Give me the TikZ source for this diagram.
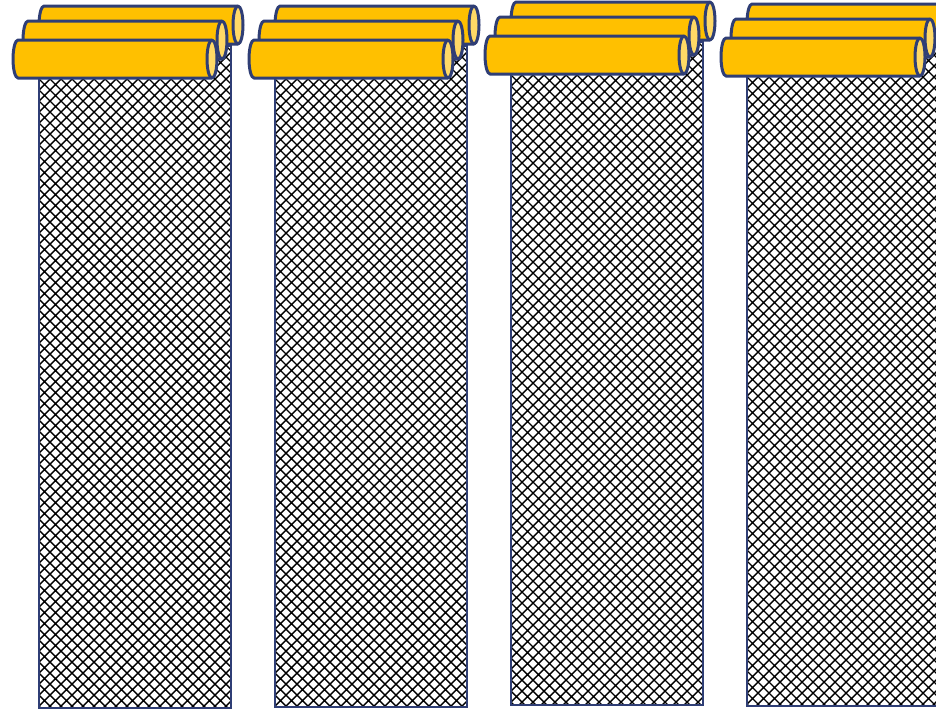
\documentclass[tikz,border=0pt]{standalone}
\usetikzlibrary{positioning}

\definecolor{rollfill}{HTML}{FFC000}
\definecolor{rollend}{HTML}{FFD966}
\definecolor{rollline}{HTML}{2F3E75}

% one rolled cylinder, #1/#2 = top left corner
\newcommand{\drawroll}[2]{%
  \draw[roll] (#1+5,#2) -- (#1+199,#2) -- (#1+199,#2+38) -- (#1+5,#2+38)
    arc[start angle=90, end angle=270, x radius=5, y radius=19] -- cycle;
  \draw[roll, fill=rollend] (#1+199,#2+19) ellipse [x radius=5, y radius=19];
}

\begin{document}
\begin{tikzpicture}[x=0.5pt, y=-0.5pt,
  roll/.style={draw=rollline, line width=1.5pt, fill=rollfill, line join=round},
  mesh/.style={draw=rollline, line width=1pt},
  hatch/.style={black, line width=0.7pt}]
  \fill[white] (0,0) rectangle (936,709);
  \useasboundingbox (0,0) rectangle (936,709);
  \foreach \cx/\cy/\cb in {39/6/708, 275/6/707, 511/2/705, 747/4/706} {
    % hatched panel
    \begin{scope}
      \clip (\cx,\cy+40) rectangle (\cx+192,\cb);
      \draw[hatch] foreach \s in {0,11,...,902} {(\cx-704+\s,\cy+40) -- ++(704,704) (\cx+\s,\cy+40) -- ++(-704,704)};
    \end{scope}
    \draw[mesh] (\cx,\cy+40) rectangle (\cx+192,\cb);
    % three rolls on top
    \drawroll{\cx}{\cy}
    \drawroll{\cx-16}{\cy+15}
    \drawroll{\cx-26}{\cy+34}
  }
\end{tikzpicture}
\end{document}
